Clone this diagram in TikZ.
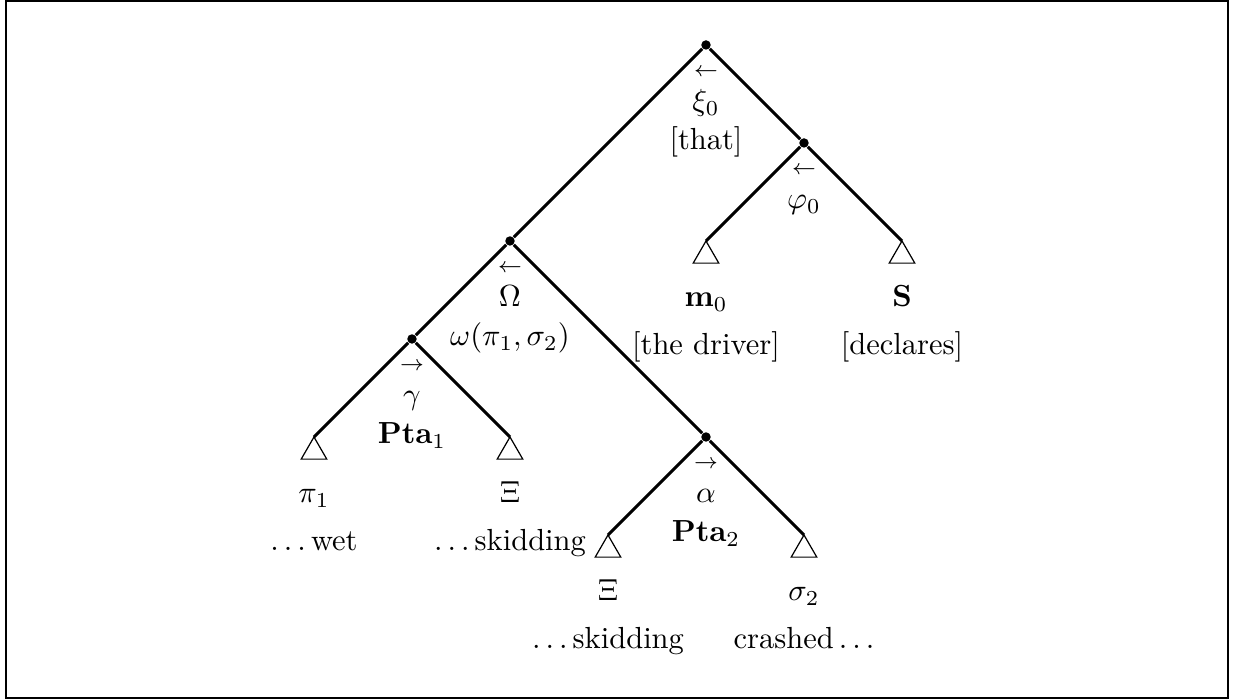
\documentclass[tikz,border=0pt]{standalone}
\usepackage{tikz}
\usetikzlibrary{shapes.geometric}
\tikzset{
  inner/.style={circle, fill=black, inner sep=0pt, minimum size=3.1pt},
  leaf/.style={regular polygon, regular polygon sides=3, draw, thin,
               inner sep=0pt, outer sep=0pt, minimum size=3.4mm,
               anchor=corner 1},
  branch/.style={line width=1pt},
  arrlab/.style={anchor=base, yshift=-10.3pt},
  varlab/.style={anchor=base, yshift=-21.5pt},
  desclab/.style={anchor=base, yshift=-34.3pt},
  leafdesc/.style={anchor=base, yshift=-37.3pt},
}

\begin{document}
\begin{tikzpicture}
    \useasboundingbox (0,0) rectangle (14.227,8.052);
    \draw[line width=0.6pt] (0.069,0.015) rectangle (14.147,8.040);

    % inner points of the tree
    \node[inner] (root) at (8.133, 7.534) {};
    \node[inner] (phi) at (9.262, 6.405) {};
    \node[inner] (omega) at (5.875, 5.276) {};
    \node[inner] (gamma) at (4.746, 4.147) {};
    \node[inner] (alpha) at (8.133, 3.018) {};

    % leaves
    \node[leaf] (m0) at (8.133, 5.276) {};
    \node[leaf] (S) at (10.391, 5.276) {};
    \node[leaf] (pi1) at (3.617, 3.018) {};
    \node[leaf] (xia) at (5.875, 3.018) {};
    \node[leaf] (xib) at (7.004, 1.889) {};
    \node[leaf] (sigma2) at (9.262, 1.889) {};

    \draw[branch] (root) -- (omega);
    \draw[branch] (root) -- (phi);
    \draw[branch] (phi) -- (m0.corner 1);
    \draw[branch] (phi) -- (S.corner 1);
    \draw[branch] (omega) -- (gamma);
    \draw[branch] (omega) -- (alpha);
    \draw[branch] (gamma) -- (pi1.corner 1);
    \draw[branch] (gamma) -- (xia.corner 1);
    \draw[branch] (alpha) -- (xib.corner 1);
    \draw[branch] (alpha) -- (sigma2.corner 1);

    % labels under the inner points
    \node[arrlab] (rootA) at (root) {$\scriptstyle\leftarrow$};
    \node[varlab] (rootV) at (root) {$\xi_0$};
    \node[desclab] (rootD) at (root) {[that]};

    \node[arrlab] (phiA) at (phi) {$\scriptstyle\leftarrow$};
    \node[varlab] (phiV) at (phi) {$\varphi_0$};

    \node[arrlab] (omegaA) at (omega) {$\scriptstyle\leftarrow$};
    \node[varlab] (omegaV) at (omega) {$\Omega$};
    \node[desclab] (omegaD) at (omega) {$\omega(\pi_1,\sigma_2)$};

    \node[arrlab] (gammaA) at (gamma) {$\scriptstyle\rightarrow$};
    \node[varlab] (gammaV) at (gamma) {$\gamma$};
    \node[desclab] (gammaD) at (gamma) {$\mathbf{Pta}_1$};

    \node[arrlab] (alphaA) at (alpha) {$\scriptstyle\rightarrow$};
    \node[varlab] (alphaV) at (alpha) {$\alpha$};
    \node[desclab] (alphaD) at (alpha) {$\mathbf{Pta}_2$};

    % labels under the leaves
    \node[varlab] (m0V) at (m0.corner 1) {$\mathbf{m}_0$};
    \node[leafdesc] (m0D) at (m0.corner 1) {[the driver]};
    \node[varlab] (SV) at (S.corner 1) {$\mathbf{S}$};
    \node[leafdesc] (SD) at (S.corner 1) {[declares]};
    \node[varlab] (pi1V) at (pi1.corner 1) {$\pi_1$};
    \node[leafdesc] (pi1D) at (pi1.corner 1) {$\ldots$\,wet};
    \node[varlab] (xiaV) at (xia.corner 1) {$\Xi$};
    \node[leafdesc] (xiaD) at (xia.corner 1) {$\ldots$\,skidding};
    \node[varlab] (xibV) at (xib.corner 1) {$\Xi$};
    \node[leafdesc] (xibD) at (xib.corner 1) {$\ldots$\,skidding};
    \node[varlab] (sigma2V) at (sigma2.corner 1) {$\sigma_2$};
    \node[leafdesc] (sigma2D) at (sigma2.corner 1) {crashed\,$\ldots$};
\end{tikzpicture}
\end{document}
